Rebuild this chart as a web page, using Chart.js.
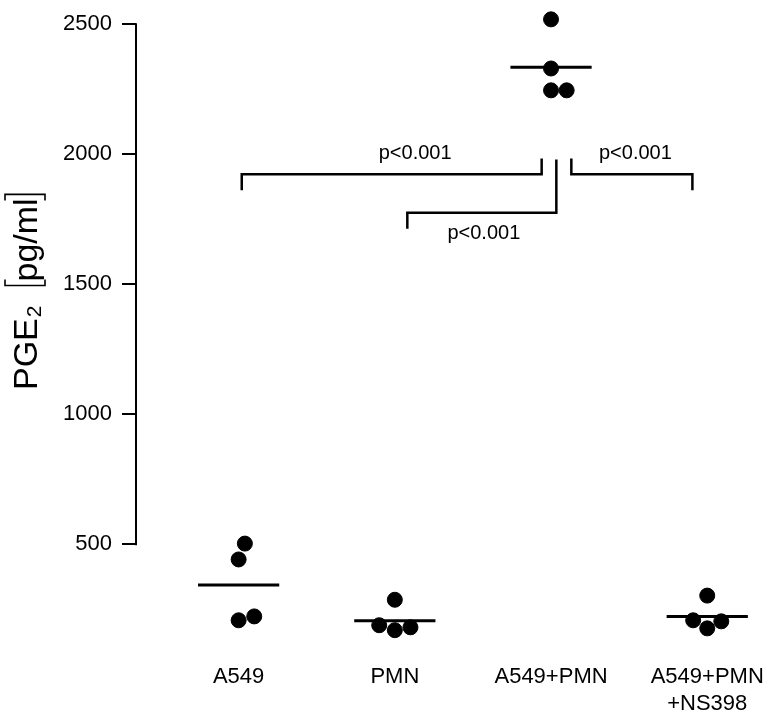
<!DOCTYPE html>
<html>
<head>
<meta charset="utf-8">
<script src="https://cdn.jsdelivr.net/npm/chart.js@4.4.1/dist/chart.umd.min.js"></script>
<style>
  html, body { margin: 0; padding: 0; background: #fff; }
  #wrap { width: 774px; height: 714px; }
</style>
</head>
<body>
<div id="wrap"><canvas id="chart" width="774" height="714"></canvas></div>
<script>
const groups = ["A549", "PMN", "A549+PMN", ["A549+PMN", "+NS398"]];
const a549 = [503, 442, 223, 208];
const pmn = [287, 189, 170, 181];
const a549Pmn = [2519, 2330, 2246, 2246];
const a549PmnNs = [303, 208, 177, 204];
// sideways spread of the dots (category units), as in the figure
const jitter = [[0.04, 0, 0.1, 0], [0, -0.1, 0, 0.1], [0, 0, 0, 0.1], [0, -0.09, 0, 0.09]];
const yTicks = [500, 1000, 1500, 2000, 2500];
const yRange = [101.5, 2560.7];
const xRange = [-0.657, 3.373];

// significance bars: ends in category units, bar height and tip heights in pg/ml
const sigBars = [
  { x: [0.02, 1.94], y: 1923, tips: [1862, 1984], label: "p<0.001", at: [1.13, 2003] },
  { x: [1.08, 2.034], y: 1775, tips: [1714, 1980], label: "p<0.001", at: [1.57, 1695] },
  { x: [2.13, 2.905], y: 1923, tips: [1984, 1862], label: "p<0.001", at: [2.54, 2003] }
];

const FONT = '"Liberation Sans", Arial, Helvetica, sans-serif';
const allSets = [a549, pmn, a549Pmn, a549PmnNs];

const dots = [];
allSets.forEach((vals, i) => {
  vals.forEach((v, j) => dots.push({ x: i + jitter[i][j], y: v }));
});

function mean(arr) {
  return arr.reduce((a, b) => a + b, 0) / arr.length;
}

const datasets = [{
  data: dots,
  backgroundColor: "#000",
  borderColor: "#000",
  pointRadius: 7.5,
  pointHoverRadius: 7.5,
  clip: false
}];

allSets.forEach((vals, i) => {
  const m = mean(vals);
  datasets.push({
    data: [{ x: i - 0.26, y: m }, { x: i + 0.26, y: m }],
    showLine: true,
    borderColor: "#000",
    borderWidth: 3,
    pointRadius: 0,
    clip: false
  });
});

sigBars.forEach(b => {
  datasets.push({
    data: [
      { x: b.x[0], y: b.tips[0] },
      { x: b.x[0], y: b.y },
      { x: b.x[1], y: b.y },
      { x: b.x[1], y: b.tips[1] }
    ],
    showLine: true,
    borderColor: "#000",
    borderWidth: 2.5,
    pointRadius: 0,
    clip: false
  });
});

const decor = {
  id: "decor",
  afterDraw(chart) {
    const { ctx, chartArea } = chart;
    const x = chart.scales.x;
    const y = chart.scales.y;
    ctx.save();

    // y axis line only from first to last tick
    ctx.strokeStyle = "#000";
    ctx.lineWidth = 2;
    ctx.beginPath();
    ctx.moveTo(chartArea.left, y.getPixelForValue(yTicks[0]) + 1);
    ctx.lineTo(chartArea.left, y.getPixelForValue(yTicks[yTicks.length - 1]) - 1);
    ctx.stroke();

    // p values
    ctx.fillStyle = "#000";
    ctx.font = "20px " + FONT;
    ctx.textAlign = "center";
    ctx.textBaseline = "middle";
    sigBars.forEach(b => {
      ctx.fillText(b.label, x.getPixelForValue(b.at[0]), y.getPixelForValue(b.at[1]));
    });

    // y title: PGE2 [pg/ml], rotated
    const F = 34;
    ctx.translate(37, 390);
    ctx.rotate(-Math.PI / 2);
    ctx.textAlign = "left";
    ctx.textBaseline = "alphabetic";
    ctx.font = F + "px " + FONT;
    ctx.fillText("PGE", 0, 0);
    let pos = ctx.measureText("PGE").width + 1;
    ctx.font = Math.round(F * 0.62) + "px " + FONT;
    ctx.fillText("2", pos, F * 0.12);
    pos += ctx.measureText("2").width;

    ctx.font = F + "px " + FONT;
    const b0 = pos + 20;
    const w = ctx.measureText("pg/ml").width;
    const b1 = b0 + w + 8;
    ctx.fillText("pg/ml", b0 + 4, 0);
    const top = -32, bot = 8, tip = 6;
    ctx.lineWidth = 1.6;
    ctx.beginPath();
    ctx.moveTo(b0 + tip, top); ctx.lineTo(b0, top); ctx.lineTo(b0, bot); ctx.lineTo(b0 + tip, bot);
    ctx.moveTo(b1 - tip, top); ctx.lineTo(b1, top); ctx.lineTo(b1, bot); ctx.lineTo(b1 - tip, bot);
    ctx.stroke();

    ctx.restore();
  }
};

new Chart(document.getElementById("chart"), {
  type: "scatter",
  data: { datasets },
  options: {
    responsive: false,
    animation: false,
    layout: { padding: 0 },
    plugins: { legend: { display: false }, tooltip: { enabled: false } },
    scales: {
      x: {
        type: "linear",
        min: xRange[0],
        max: xRange[1],
        grid: { display: false, drawTicks: false, tickLength: 0 },
        border: { display: false },
        afterBuildTicks: s => { s.ticks = groups.map((g, i) => ({ value: i })); },
        afterFit: s => { s.height = 66; s.paddingLeft = 0; s.paddingRight = 0; },
        ticks: {
          color: "#000",
          padding: 16,
          maxRotation: 0,
          autoSkip: false,
          font: { family: FONT, size: 22, lineHeight: 1.2 },
          callback: v => groups[v]
        }
      },
      y: {
        type: "linear",
        min: yRange[0],
        max: yRange[1],
        grid: { display: true, drawOnChartArea: false, drawTicks: true, tickLength: 14, color: "#000", lineWidth: 2 },
        border: { display: false },
        afterBuildTicks: s => { s.ticks = yTicks.map(v => ({ value: v })); },
        afterFit: s => { s.width = 136; s.paddingTop = 0; s.paddingBottom = 0; },
        ticks: {
          color: "#000",
          padding: 10,
          font: { family: FONT, size: 22 },
          callback: v => String(v)
        }
      }
    }
  },
  plugins: [decor]
});
</script>
</body>
</html>
